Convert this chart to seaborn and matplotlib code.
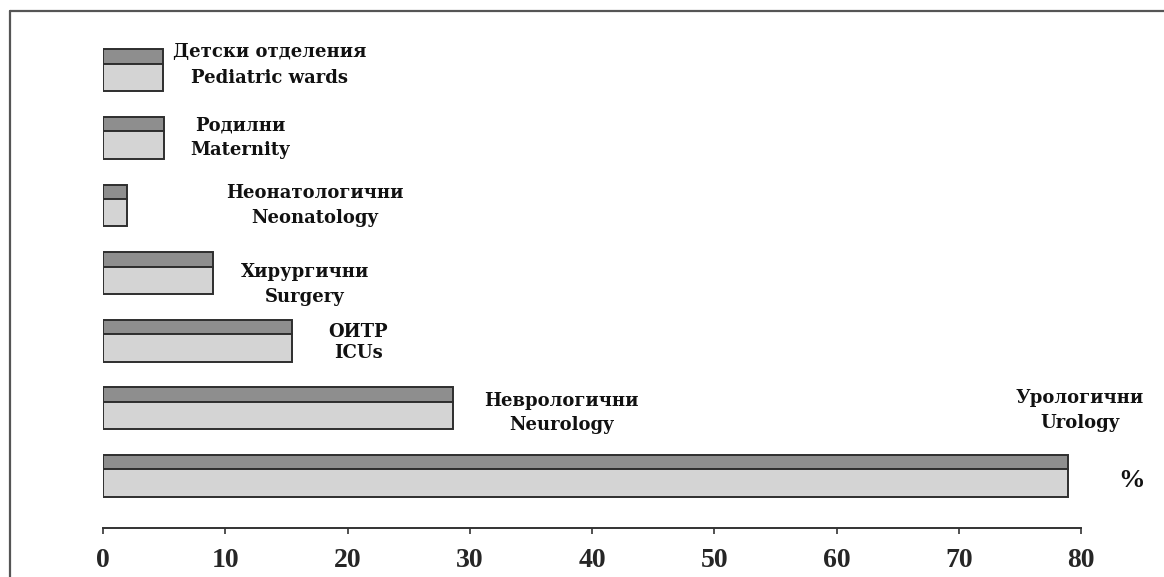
import numpy as np
import pandas as pd
import matplotlib
matplotlib.use("Agg")
import matplotlib.pyplot as plt
from matplotlib.lines import Line2D
import seaborn as sns

# Share of cases per ward type (%)
wards_bg = ["Детски отделения", "Родилни", "Неонатологични", "Хирургични",
            "ОИТР", "Неврологични", "Урологични"]
wards_en = ["Pediatric wards", "Maternity", "Neonatology", "Surgery",
            "ICUs", "Neurology", "Urology"]
shares = [4.9, 5.0, 2.0, 9.0, 15.5, 28.6, 78.9]
x_ticks = [0, 10, 20, 30, 40, 50, 60, 70, 80]

sns.set_theme(style="white")
plt.rcParams["font.family"] = ["Liberation Serif", "DejaVu Serif"]
plt.rcParams["font.weight"] = "bold"

W, H = 1164, 577
fig = plt.figure(figsize=(W / 100, H / 100), dpi=100)
ax = fig.add_axes([103 / W, 1 - 528 / H, (1081 - 103) / W, (528 - 23) / H])

rows = np.arange(len(shares))
df = pd.DataFrame({"ward": wards_en, "share": shares, "row": rows})

# each ward is drawn as a thin dark strip sitting on top of a wider light strip
top_h, front_h = 0.214, 0.406
half = (top_h + front_h) / 2
df["top_pos"] = df["row"] - half + top_h / 2
df["front_pos"] = df["row"] - half + top_h + front_h / 2

edge = "#2e2e2e"
sns.barplot(data=df, x="share", y="top_pos", orient="y", native_scale=True,
            width=top_h, color="#8e8e8e", saturation=1, edgecolor=edge,
            linewidth=1.4, errorbar=None, ax=ax)
sns.barplot(data=df, x="share", y="front_pos", orient="y", native_scale=True,
            width=front_h, color="#d4d4d4", saturation=1, edgecolor=edge,
            linewidth=1.4, errorbar=None, ax=ax)

ax.set_xlim(0, 80)
ax.set_ylim(6.77, -0.7)
ax.set_xlabel("")
ax.set_ylabel("")
ax.set_yticks([])
ax.set_xticks(x_ticks)
ax.set_xticklabels([str(t) for t in x_ticks], fontsize=20, fontweight="bold",
                   family=["Liberation Serif"])
ax.tick_params(axis="x", direction="out", length=4.5, width=1.2, color="#333333",
               pad=10, bottom=True)
for side in ("left", "right", "top"):
    ax.spines[side].set_visible(False)
ax.spines["bottom"].set_color("#333333")
ax.spines["bottom"].set_linewidth(1.4)

# two-line ward labels: (x centre, y of first line, y of second line)
label_pos = [(13.6, -0.27, 0.12), (11.2, 0.81, 1.18), (17.3, 1.82, 2.19),
             (16.5, 2.98, 3.35), (20.9, 3.87, 4.18), (37.5, 4.89, 5.24),
             (79.9, 4.84, 5.21)]
label_font = ["DejaVu Serif"]
for bg, en, (lx, y1, y2) in zip(wards_bg, wards_en, label_pos):
    ax.text(lx, y1, bg, ha="center", va="center", fontsize=13,
            fontweight="bold", family=label_font, color="#111111", clip_on=False)
    ax.text(lx, y2, en, ha="center", va="center", fontsize=13,
            fontweight="bold", family=label_font, color="#111111", clip_on=False)

ax.text(84.1, 6.07, "%", ha="center", va="center", fontsize=19,
        fontweight="bold", color="#111111", clip_on=False)

# outer frame: left and top edges
fig.add_artist(Line2D([9.5 / W, 9.5 / W], [0, 1 - 10.5 / H],
                      transform=fig.transFigure, color="#555555", lw=1.6))
fig.add_artist(Line2D([9.5 / W, 1], [1 - 10.5 / H, 1 - 10.5 / H],
                      transform=fig.transFigure, color="#555555", lw=1.6))

fig.savefig("out.png", dpi=100, facecolor="white")
